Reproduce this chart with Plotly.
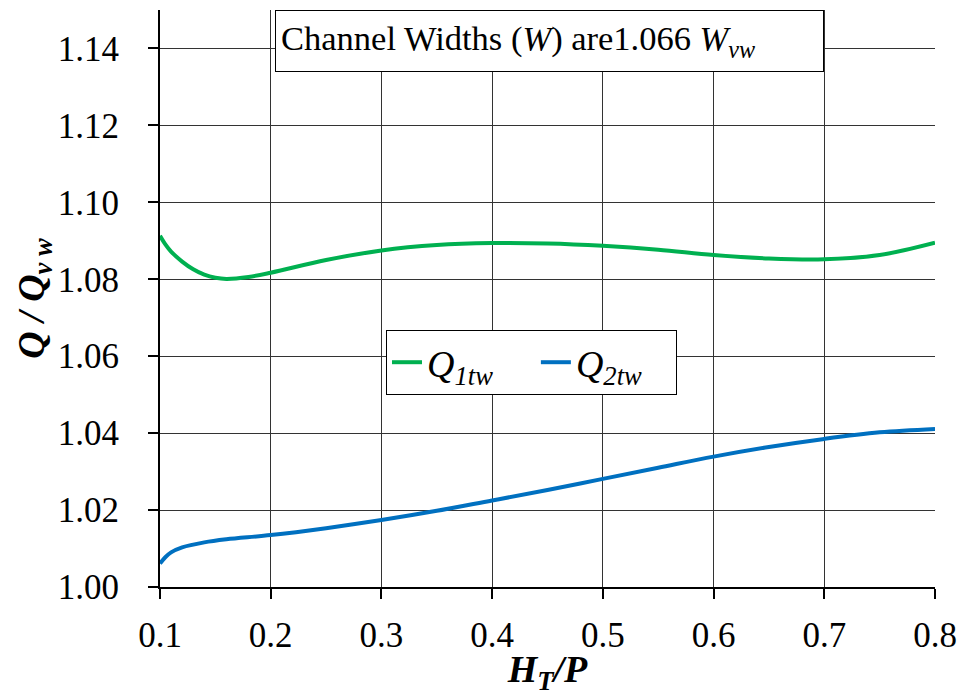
import plotly.graph_objects as go

x_q1 = [0.1, 0.105, 0.11, 0.12, 0.13, 0.14, 0.15, 0.16, 0.18, 0.2, 0.25, 0.3, 0.35, 0.4, 0.45, 0.5, 0.55, 0.6, 0.65, 0.7, 0.75, 0.8]
q1tw = [1.0913, 1.0890, 1.0872, 1.0846, 1.0826, 1.0812, 1.0804, 1.0801, 1.0806, 1.0817, 1.0850, 1.0875, 1.0889, 1.0894, 1.0893, 1.0887, 1.0877, 1.0863, 1.0854, 1.0852, 1.0863, 1.0895]

x_q2 = [0.1, 0.105, 0.11, 0.12, 0.14, 0.16, 0.2, 0.25, 0.3, 0.35, 0.4, 0.45, 0.5, 0.55, 0.6, 0.65, 0.7, 0.75, 0.8]
q2tw = [1.0061, 1.0078, 1.0090, 1.0103, 1.0116, 1.0124, 1.0135, 1.0153, 1.0174, 1.0198, 1.0225, 1.0252, 1.0281, 1.0310, 1.0339, 1.0364, 1.0385, 1.0402, 1.0411]

x_ticks = [0.1, 0.2, 0.3, 0.4, 0.5, 0.6, 0.7, 0.8]
y_ticks = [1.00, 1.02, 1.04, 1.06, 1.08, 1.10, 1.12, 1.14]

FONT = "Liberation Serif, Times New Roman, serif"

fig = go.Figure()
fig.add_trace(go.Scatter(x=x_q1, y=q1tw, mode="lines", line=dict(color="#00B050", width=4, shape="spline"),
                         name="<i>Q</i><sub><i>1tw</i></sub>&nbsp;&nbsp;&nbsp;&nbsp;"))
fig.add_trace(go.Scatter(x=x_q2, y=q2tw, mode="lines", line=dict(color="#0070C0", width=4, shape="spline"),
                         name="<i>Q</i><sub><i>2tw</i></sub>&nbsp;&nbsp;&nbsp;"))

axis_common = dict(showline=True, linecolor="black", linewidth=2, ticks="outside", ticklen=10,
                   tickwidth=2, tickcolor="black", showgrid=True, gridcolor="#333333", gridwidth=1,
                   zeroline=False, automargin=False, tickfont=dict(family=FONT, size=35, color="black"))

fig.update_xaxes(range=[0.1, 0.8], tickvals=x_ticks, ticktext=[f"{v:.1f}" for v in x_ticks],
                 ticklabelstandoff=6,
                 title=dict(text="<b><i>H</i></b><sub><b><i>T</i></b></sub><b><i>/P</i></b>",
                            font=dict(family=FONT, size=38, color="black"), standoff=8),
                 **axis_common)
fig.update_yaxes(range=[1.0, 1.15], tickvals=y_ticks, ticktext=[f"{v:.2f}" for v in y_ticks],
                 ticklabelstandoff=22,
                 title=dict(text="<b><i>Q / Q</i></b><sub><b><i>v w</i></b></sub>",
                            font=dict(family=FONT, size=38, color="black"), standoff=0),
                 **axis_common)

fig.add_annotation(xref="paper", yref="paper", x=0.148, y=1.0, xanchor="left", yanchor="top",
                   text="Channel Widths (<i>W</i>) are1.066 <i>W</i><sub><i>vw</i></sub>",
                   showarrow=False, align="left", width=537, height=50, borderpad=5,
                   bgcolor="white", bordercolor="black", borderwidth=1,
                   font=dict(family=FONT, size=34.5, color="black"))

fig.update_layout(
    width=961, height=696,
    margin=dict(l=160, r=26, t=10, b=109),
    plot_bgcolor="white", paper_bgcolor="white",
    font=dict(family=FONT, color="black"),
    legend=dict(orientation="h", x=0.2916, y=0.4454, xanchor="left", yanchor="top",
                bgcolor="white", bordercolor="black", borderwidth=1,
                font=dict(family=FONT, size=38, color="black"), itemwidth=30),
)

fig.write_html("out.html", config={"displayModeBar": False},
               post_script="document.body.style.margin='0';document.body.style.overflow='hidden';")
